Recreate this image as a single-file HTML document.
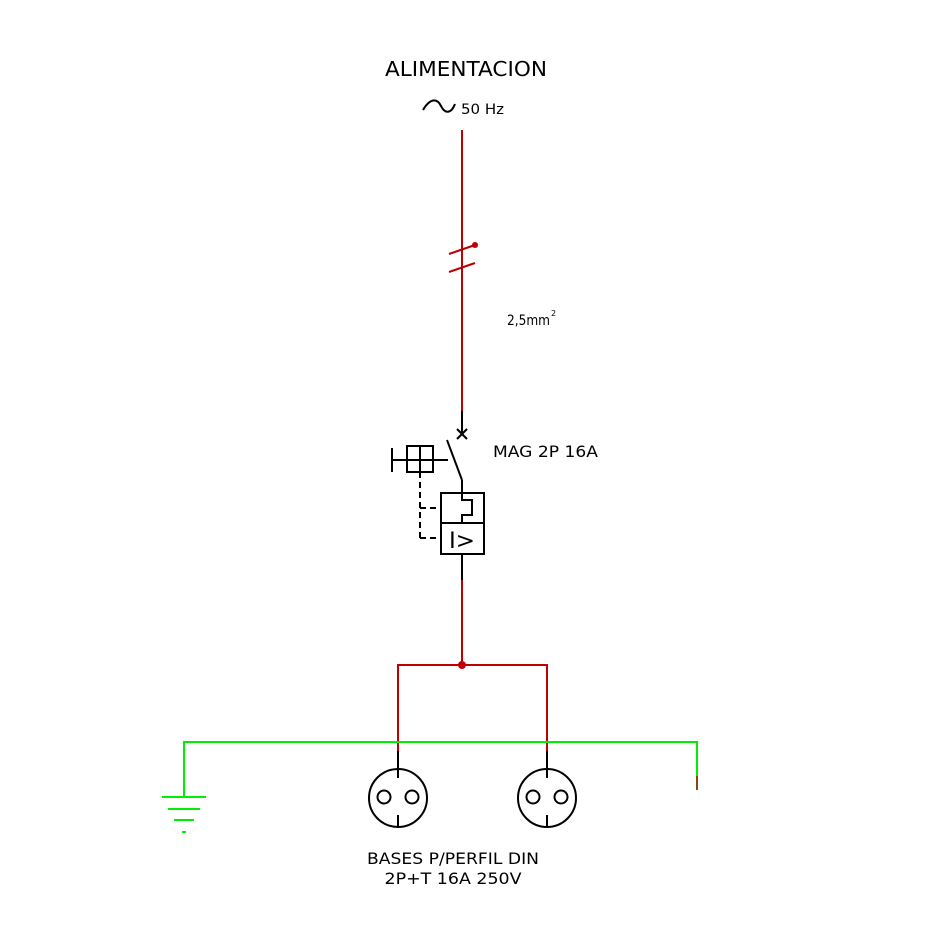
<!DOCTYPE html>
<html><head><meta charset="utf-8"><style>
html,body{margin:0;padding:0;background:#fff}
svg{display:block}
text{font-family:"DejaVu Sans","Liberation Sans",sans-serif;fill:#000}
</style></head><body>
<svg width="950" height="950" viewBox="0 0 950 950" xmlns="http://www.w3.org/2000/svg">
<rect width="950" height="950" fill="#fff"/>
<text x="466" y="76" font-size="20" text-anchor="middle" textLength="162" lengthAdjust="spacingAndGlyphs">ALIMENTACION</text>
<path d="M423,110 C430,98 437,98 441,106 C445,114 451,114 455,104" fill="none" stroke="#000" stroke-width="2"/>
<text x="461" y="114" font-size="14" textLength="43" lengthAdjust="spacingAndGlyphs">50 Hz</text>
<line x1="462" y1="130" x2="462" y2="411" stroke="#c00000" stroke-width="2"/>
<line x1="449" y1="254" x2="475" y2="245" stroke="#c00000" stroke-width="2"/>
<circle cx="475" cy="245" r="3" fill="#c00000"/>
<line x1="449" y1="272" x2="475" y2="263" stroke="#c00000" stroke-width="2"/>
<text x="507" y="325" font-size="14" textLength="43" lengthAdjust="spacingAndGlyphs">2,5mm</text>
<text x="551" y="316" font-size="8">2</text>
<g stroke="#000" stroke-width="2" fill="none">
<line x1="462" y1="411" x2="462" y2="434"/>
<line x1="457" y1="429" x2="467" y2="439"/><line x1="467" y1="429" x2="457" y2="439"/>
<line x1="447" y1="440" x2="462" y2="480"/>
<line x1="462" y1="480" x2="462" y2="493"/>
<rect x="441" y="493" width="43" height="61"/>
<line x1="441" y1="523" x2="484" y2="523"/>
<polyline points="462,493 462,500 472,500 472,515 462,515 462,523"/>
<line x1="462" y1="554" x2="462" y2="580"/>
<line x1="392" y1="460" x2="448" y2="460"/>
<line x1="392" y1="448" x2="392" y2="472"/>
<rect x="407" y="446" width="26" height="26"/>
<line x1="420" y1="446" x2="420" y2="472"/>
<line x1="420" y1="472" x2="420" y2="538" stroke-dasharray="6,4"/>
<line x1="420" y1="508" x2="441" y2="508" stroke-dasharray="6,4"/>
<line x1="420" y1="538" x2="441" y2="538" stroke-dasharray="6,4"/>
</g>
<text x="462" y="548" font-size="22" text-anchor="middle" font-family="Liberation Serif,serif" textLength="26" lengthAdjust="spacingAndGlyphs">I&gt;</text>
<text x="493" y="457" font-size="16" textLength="105" lengthAdjust="spacingAndGlyphs">MAG 2P 16A</text>
<g stroke="#c00000" stroke-width="2" fill="none">
<line x1="462" y1="580" x2="462" y2="665"/>
<polyline points="398,751 398,665 547,665 547,751"/>
</g>
<circle cx="462" cy="665" r="4" fill="#c00000"/>
<g stroke="#00ee00" stroke-width="2" fill="none">
<polyline points="184,797 184,742 697,742 697,777"/>
<line x1="162" y1="797" x2="206" y2="797"/>
<line x1="168" y1="809" x2="200" y2="809"/>
<line x1="174" y1="820" x2="194" y2="820"/>
<line x1="182" y1="832" x2="186" y2="832"/>
</g>
<line x1="697" y1="776" x2="697" y2="790" stroke="#8b4513" stroke-width="2"/>
<g stroke="#000" stroke-width="2" fill="none">
<circle cx="398" cy="798" r="29"/>
<circle cx="384" cy="797" r="6.5"/><circle cx="412" cy="797" r="6.5"/>
<line x1="398" y1="751" x2="398" y2="778"/><line x1="398" y1="815" x2="398" y2="828"/>
<circle cx="547" cy="798" r="29"/>
<circle cx="533" cy="797" r="6.5"/><circle cx="561" cy="797" r="6.5"/>
<line x1="547" y1="751" x2="547" y2="778"/><line x1="547" y1="815" x2="547" y2="828"/>
</g>
<text x="453" y="864" font-size="16" text-anchor="middle" textLength="172" lengthAdjust="spacingAndGlyphs">BASES P/PERFIL DIN</text>
<text x="453" y="884" font-size="16" text-anchor="middle" textLength="137" lengthAdjust="spacingAndGlyphs">2P+T 16A 250V</text>
</svg>
</body></html>
